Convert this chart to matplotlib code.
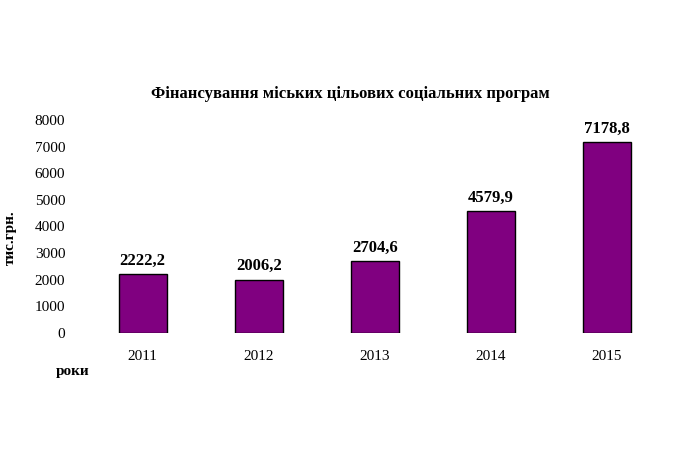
import matplotlib
matplotlib.use('Agg')
import matplotlib.pyplot as plt

years = ['2011', '2012', '2013', '2014', '2015']
values = [2222.2, 2006.2, 2704.6, 4579.9, 7178.8]
labels = ['2222,2', '2006,2', '2704,6', '4579,9', '7178,8']

plt.rcParams['font.family'] = 'Liberation Serif'
fig = plt.figure(figsize=(7, 4.67), dpi=100)
ax = fig.add_axes([0.121, 0.287, 0.829, 0.456])

x = range(len(years))
ax.bar(x, values, width=0.41, color='#800080', edgecolor='black', linewidth=1)
for i, v in enumerate(values):
    ax.text(i, v + 200, labels[i], ha='center', va='bottom', fontsize=12, fontweight='bold')

ax.set_xlim(-0.5, 4.5)
ax.set_ylim(0, 8000)
ax.set_yticks(range(0, 8001, 1000))
ax.set_xticks(list(x))
ax.set_xticklabels(years)
ax.tick_params(length=0, labelsize=11, pad=12)
ax.tick_params(axis='y', pad=14)
for s in ax.spines.values():
    s.set_visible(False)

fig.text(0.5, 0.79, 'Фінансування міських цільових соціальних програм',
         ha='center', fontsize=12, fontweight='bold')
fig.text(0.015, 0.49, 'тис.грн.', rotation=90, ha='center', va='center',
         fontsize=11, fontweight='bold')
fig.text(0.08, 0.205, 'роки', ha='left', va='center', fontsize=11, fontweight='bold')

fig.savefig('out.png', dpi=100)
